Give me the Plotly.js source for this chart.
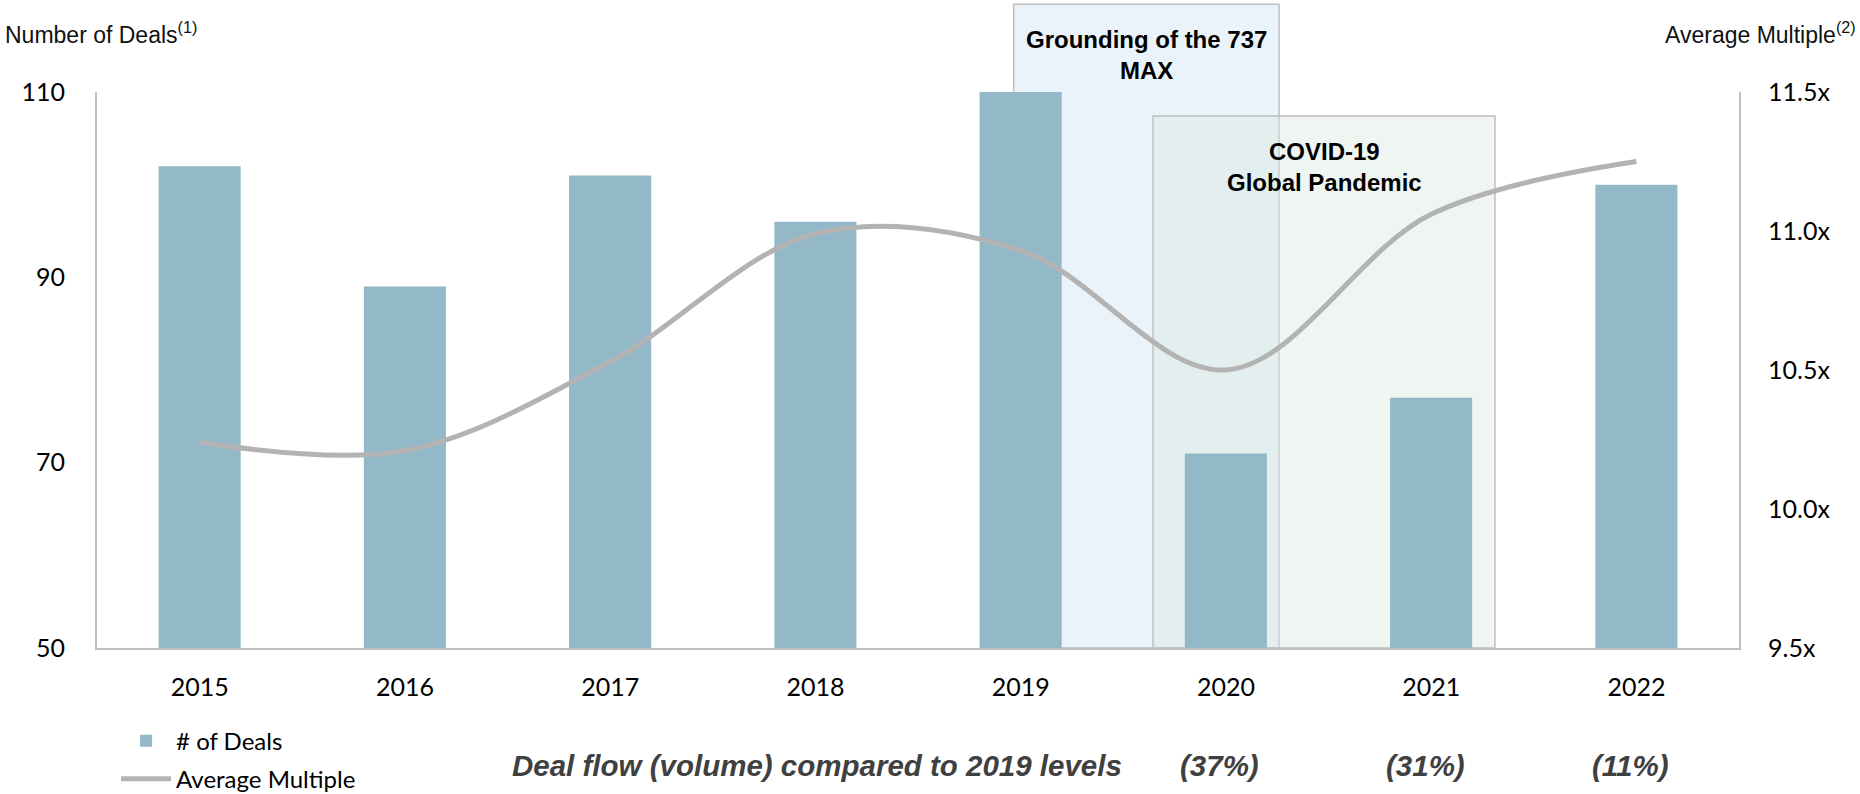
<!DOCTYPE html>
<html>
<head>
<meta charset="utf-8">
<script src="https://cdn.plot.ly/plotly-3.0.1.min.js"></script>
<style>
  html, body { margin: 0; padding: 0; background: #ffffff; }
  #chart { width: 1860px; height: 794px; }
</style>
</head>
<body>
<div id="chart"></div>
<script>
// ---- data ----
const years = ['2015', '2016', '2017', '2018', '2019', '2020', '2021', '2022'];
const dealCounts = [102, 89, 101, 96, 110, 71, 77, 100];
const avgMultiple = [10.24, 10.21, 10.53, 10.99, 10.93, 10.50, 11.06, 11.25];
const leftTicks = [50, 70, 90, 110];
const rightTicks = [9.5, 10.0, 10.5, 11.0, 11.5];
const rightTickText = ['9.5x', '10.0x', '10.5x', '11.0x', '11.5x'];
const flowYears = ['2020', '2021', '2022'];
const flowLabels = ['(37%)', '(31%)', '(11%)'];
const flowCaption = 'Deal flow (volume) compared to 2019 levels';
const eventLabels = ['Grounding of the 737<br>MAX', 'COVID-19<br>Global Pandemic'];

const tickFont = { family: 'Lato, "Open Sans", sans-serif', size: 25, color: '#000000' };
const axisGray = '#BFBFBF';
const arial = '"Liberation Sans", Arial, sans-serif';

const traces = [
  {
    type: 'bar',
    name: '# of Deals',
    x: years,
    y: dealCounts,
    marker: { color: 'rgb(147,184,200)' },
    width: 0.4,
    legendgroup: 'g1',
    hoverinfo: 'x+y'
  },
  {
    type: 'scatter',
    mode: 'lines',
    name: 'Average Multiple',
    x: years,
    y: avgMultiple,
    yaxis: 'y2',
    line: { color: '#B3B3B3', width: 5, shape: 'spline', smoothing: 1 },
    legendgroup: 'g2',
    hoverinfo: 'x+y'
  }
];

const annotations = [
  {
    xref: 'paper', yref: 'paper', x: -0.0572, y: 1.106, xanchor: 'left', yanchor: 'middle',
    text: 'Number of Deals<sup>(1)</sup>', showarrow: false,
    font: { family: arial, size: 23, color: '#111111' }
  },
  {
    xref: 'paper', yref: 'paper', x: 1.0725, y: 1.106, xanchor: 'right', yanchor: 'middle',
    text: 'Average Multiple<sup>(2)</sup>', showarrow: false,
    font: { family: arial, size: 23, color: '#111111' }
  },
  {
    xref: 'x', yref: 'paper', x: 4.612, y: 1.066, xanchor: 'center', yanchor: 'middle',
    text: '<b>' + eventLabels[0] + '</b>', showarrow: false,
    font: { family: arial, size: 24, color: '#000000' }
  },
  {
    xref: 'x', yref: 'paper', x: 5.48, y: 0.865, xanchor: 'center', yanchor: 'middle',
    text: '<b>' + eventLabels[1] + '</b>', showarrow: false,
    font: { family: arial, size: 24, color: '#000000' }
  },
  {
    xref: 'paper', yref: 'paper', x: 0.2515, y: -0.212, xanchor: 'left', yanchor: 'middle',
    text: '<b><i>' + flowCaption + '</i></b>', showarrow: false,
    font: { family: arial, size: 29.5, color: '#404040' }
  }
];
flowYears.forEach((yr, i) => {
  annotations.push({
    xref: 'x', yref: 'paper', x: years.indexOf(yr), y: -0.212, xanchor: 'center', yanchor: 'middle', xshift: -6,
    text: '<b><i>' + flowLabels[i] + '</i></b>', showarrow: false,
    font: { family: arial, size: 29.5, color: '#404040' }
  });
});

const layout = {
  width: 1860,
  height: 794,
  margin: { l: 97, r: 121, t: 92, b: 146, pad: 0, autoexpand: false },
  paper_bgcolor: '#ffffff',
  plot_bgcolor: 'rgba(0,0,0,0)',
  bargap: 0.6,
  showlegend: true,
  legend: {
    xref: 'container', yref: 'container',
    x: 0.0624, y: 0.095, xanchor: 'left', yanchor: 'top',
    orientation: 'v',
    font: { family: 'Lato, "Open Sans", sans-serif', size: 24, color: '#000000' },
    bgcolor: 'rgba(0,0,0,0)',
    tracegroupgap: 4,
    itemwidth: 50
  },
  xaxis: {
    type: 'category',
    range: [-0.5, 7.5],
    showgrid: false,
    zeroline: false,
    showline: true,
    linecolor: axisGray,
    linewidth: 2,
    ticks: '',
    tickfont: tickFont,
    ticklabelstandoff: 16,
    automargin: false,
    fixedrange: true
  },
  yaxis: {
    range: [50, 110],
    tickvals: leftTicks,
    showgrid: false,
    zeroline: false,
    showline: true,
    linecolor: axisGray,
    linewidth: 2,
    ticks: '',
    tickfont: tickFont,
    ticklabelstandoff: 25,
    automargin: false,
    fixedrange: true
  },
  yaxis2: {
    overlaying: 'y',
    side: 'right',
    range: [9.5, 11.5],
    tickvals: rightTicks,
    ticktext: rightTickText,
    showgrid: false,
    zeroline: false,
    showline: true,
    linecolor: axisGray,
    linewidth: 2,
    ticks: '',
    tickfont: tickFont,
    ticklabelstandoff: 22,
    automargin: false,
    fixedrange: true
  },
  shapes: [
    {
      type: 'rect', layer: 'below',
      xref: 'x', yref: 'paper', x0: 3.966, x1: 5.259, y0: 0, y1: 1.158,
      fillcolor: '#EBF3FA',
      line: { color: axisGray, width: 1.5 }
    },
    {
      type: 'rect', layer: 'below',
      xref: 'x', yref: 'paper', x0: 4.645, x1: 6.311, y0: 0, y1: 0.957,
      fillcolor: 'rgba(214,232,222,0.4)',
      line: { color: axisGray, width: 1.5 }
    }
  ],
  annotations: annotations
};

Plotly.newPlot('chart', traces, layout, { displayModeBar: false, staticPlot: true });
</script>
</body>
</html>
